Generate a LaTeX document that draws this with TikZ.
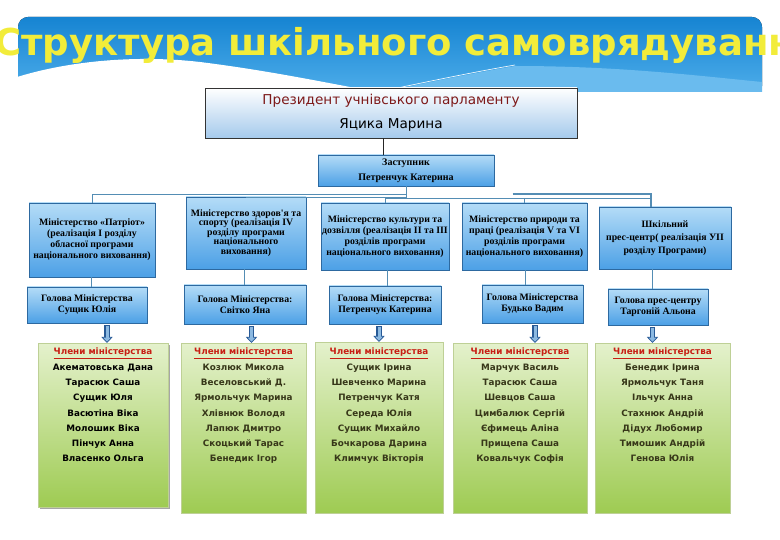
\documentclass[tikz,border=0pt]{standalone}
\usepackage{fontspec}
\setmainfont{DejaVu Sans}
\newfontfamily\boxserif{Liberation Serif}
\usepackage{xcolor}
\usetikzlibrary{arrows.meta,positioning,calc,shadows}

\definecolor{bannertop}{RGB}{22,132,210}
\definecolor{bannerbot}{RGB}{80,175,235}
\definecolor{titleyellow}{RGB}{242,236,58}
\definecolor{presblue}{RGB}{165,202,236}
\definecolor{presred}{RGB}{125,25,25}
\definecolor{boxtop}{RGB}{180,220,247}
\definecolor{boxbot}{RGB}{76,160,230}
\definecolor{boxedge}{RGB}{45,105,160}
\definecolor{greentop}{RGB}{228,241,204}
\definecolor{greenbot}{RGB}{158,203,82}
\definecolor{greenedge}{RGB}{190,208,150}
\definecolor{linkcol}{RGB}{84,141,180}
\definecolor{arrowedge}{RGB}{40,90,150}
\definecolor{arrowfill}{RGB}{140,185,225}
\definecolor{headred}{RGB}{200,30,20}
\definecolor{namecol}{RGB}{55,55,25}

\begin{document}
\begin{tikzpicture}[
    x=1pt, y=-1pt,
    title/.style={text=titleyellow, font=\bfseries\fontsize{37}{40}\selectfont, inner sep=0pt},
    president/.style={rectangle, draw=black!80, line width=0.8pt, top color=white, bottom color=presblue, minimum width=372, minimum height=50, align=center, font=\fontsize{13.6}{24}\selectfont},
    ministry/.style={rectangle, draw=boxedge, top color=boxtop, bottom color=boxbot, align=center, inner sep=1pt, font=\boxserif\bfseries\fontsize{9.8}{11}\selectfont},
    memberbox/.style={rectangle, draw=greenedge, top color=greentop, bottom color=greenbot, anchor=north},
    memlist/.style={anchor=north, inner sep=0pt, align=center, text=namecol, font=\bfseries\fontsize{8.8}{15.3}\selectfont},
    link/.style={draw=linkcol, line width=0.9pt},
    arrowout/.style={draw=arrowedge, line width=5.5pt, -{Triangle[width=11pt, length=6pt]}},
    arrowin/.style={draw=arrowfill, line width=3pt, shorten <=0.8pt, shorten >=1.4pt, -{Triangle[width=7.5pt, length=4pt]}}
]
    \useasboundingbox (0,0) rectangle (780,540);
    \fill[white] (0,0) rectangle (780,540);

    % Banner
    \fill[top color=bannertop, bottom color=bannerbot, rounded corners=10pt] (18,17) rectangle (762,96);
    \fill[bannerbot!85!white] (383,92) .. controls (440,80) and (480,72) .. (515,66) .. controls (620,66) and (700,76) .. (762,82) -- (762,96) -- (383,96) -- cycle;
    \draw[white, line width=0.6pt] (383,91) .. controls (440,79) and (480,71) .. (515,65);
    \fill[white] (14,78) .. controls (70,60) and (140,55) .. (200,62) .. controls (280,72) and (340,86) .. (400,96) -- (14,96) -- cycle;
    \fill[white] (0,92) rectangle (780,100);
    \node[title, anchor=west] (title) at (-6,45) {Структура шкільного самоврядування};

    % President
    \node[president] (pres) at (391,113) {{\color{presred}Президент учнівського парламенту}\\Яцика Марина};

    % Deputy
    \node[ministry, minimum width=176, minimum height=31, font=\boxserif\bfseries\fontsize{10}{15}\selectfont] (dep) at (406,170.5) {Заступник\\Петренчук Катерина};
    \draw[black!85, line width=0.9pt] ([xshift=-8pt]pres.south) -- ([xshift=-8pt]pres.south |- dep.north);

    % Ministries
    \node[ministry, minimum width=126, minimum height=74] (min1) at (92,240) {Міністерство «Патріот»\\(реалізація І розділу\\обласної програми\\національного виховання)};
    \node[ministry, minimum width=120, minimum height=72, font=\boxserif\bfseries\fontsize{9.8}{9.6}\selectfont] (min2) at (246,233) {Міністерство здоров'я та\\спорту (реалізація IV\\розділу програми\\національного\\виховання)};
    \node[ministry, minimum width=128, minimum height=67] (min3) at (385,236.5) {Міністерство культури та\\дозвілля (реалізація ІІ та ІІІ\\розділів  програми\\національного виховання)};
    \node[ministry, minimum width=125, minimum height=67] (min4) at (524.5,236.5) {Міністерство природи та\\праці (реалізація V та VІ\\розділів програми\\національного виховання)};
    \node[ministry, minimum width=132, minimum height=62, font=\boxserif\bfseries\fontsize{9.8}{13.3}\selectfont] (min5) at (665,238) {Шкільний\\прес-центр( реалізація УІІ\\розділу Програми)};

    % Tree lines
    \draw[link] (dep.south) -- ++(0,8) -| (min1.north);
    \draw[link] (dep.south) -- ++(0,11) -| (min2.north);
    \draw[link] (dep.south) -- ++(0,12) -| (min3.north);
    \draw[link] (dep.south) -- ++(0,12) -| (min4.north);
    \draw[link] (dep.south) -- ++(0,12) -| ([xshift=-14pt]min5.north);
    \draw[link, line width=2.5pt] ([xshift=-12pt]min4.north) ++(0,-9) -| ([xshift=-14pt]min5.north);

    % Heads
    \node[ministry, minimum width=120, minimum height=36] (hd1) at (87,305) {Голова  Міністерства\\Сущик Юлія};
    \node[ministry, minimum width=122, minimum height=39] (hd2) at (245,304.5) {Голова Міністерства:\\Світко Яна};
    \node[ministry, minimum width=112, minimum height=38] (hd3) at (385,305) {Голова Міністерства:\\Петренчук Катерина};
    \node[ministry, minimum width=101, minimum height=38] (hd4) at (532.5,304) {Голова Міністерства\\Будько Вадим};
    \node[ministry, minimum width=100, minimum height=36] (hd5) at (658,307) {Голова прес-центру\\Таргоній Альона};

    \foreach \i/\dx in {1/-1,2/-2,3/2,4/1,5/-13}
        \draw[link] ([xshift=\dx pt]min\i.south) -- ([xshift=\dx pt]min\i.south |- hd\i.north);

    % Members
    \node[memberbox, minimum width=130, minimum height=164, drop shadow={shadow xshift=2pt, shadow yshift=-2pt, fill=gray!70, opacity=1}] (mem1) at (103,343) {};
    \node[memberbox, minimum width=125, minimum height=170] (mem2) at (243.5,343) {};
    \node[memberbox, minimum width=128, minimum height=171] (mem3) at (379,342) {};
    \node[memberbox, minimum width=134, minimum height=170] (mem4) at (520,343) {};
    \node[memberbox, minimum width=135, minimum height=170] (mem5) at (662.5,343) {};

    \node[memlist, text=black] (mem1list) at (103,348) {{\color{headred}\underline{Члени  міністерства}}\\Акематовська Дана\\Тарасюк Саша\\Сущик Юля\\Васютіна Віка\\Молошик Віка\\Пінчук Анна\\Власенко Ольга};
    \node[memlist] (mem2list) at (243.5,348) {{\color{headred}\underline{Члени міністерства}}\\Козлюк Микола\\Веселовський Д.\\Ярмольчук Марина\\Хлівнюк Володя\\Лапюк Дмитро\\Скоцький Тарас\\Бенедик Ігор};
    \node[memlist] (mem3list) at (379,348) {{\color{headred}\underline{Члени міністерства}}\\Сущик Ірина\\Шевченко Марина\\Петренчук Катя\\Середа Юлія\\Сущик Михайло\\Бочкарова Дарина\\Климчук Вікторія};
    \node[memlist] (mem4list) at (520,348) {{\color{headred}\underline{Члени міністерства}}\\Марчук Василь\\Тарасюк Саша\\Шевцов Саша\\Цимбалюк Сергій\\Єфимець Аліна\\Прищепа Саша\\Ковальчук Софія};
    \node[memlist] (mem5list) at (662.5,348) {{\color{headred}\underline{Члени міністерства}}\\Бенедик Ірина\\Ярмольчук Таня\\Ільчук Анна\\Стахнюк Андрій\\Дідух Любомир\\Тимошик Андрій\\Генова Юлія};

    % Arrows
    \foreach \i/\dx in {1/4,2/8,3/0,4/15,5/-10} {
        \draw[arrowout] ([xshift=\dx pt, yshift=-2pt]mem\i.north |- hd\i.south) -- ([xshift=\dx pt]mem\i.north);
        \draw[arrowin] ([xshift=\dx pt, yshift=-2pt]mem\i.north |- hd\i.south) -- ([xshift=\dx pt]mem\i.north);
    }
\end{tikzpicture}
\end{document}
